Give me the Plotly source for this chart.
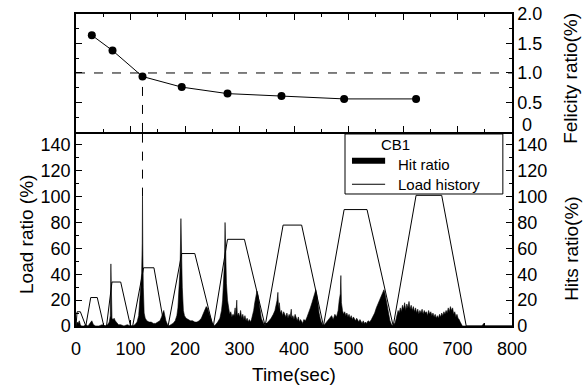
import plotly.graph_objects as go

# ---------------- data ----------------
# Load history (bottom panel, left axis)
load_time = [0, 2, 8, 18, 27, 39, 51, 56, 66, 82, 100, 104, 124, 143, 162,
             169, 194, 218, 251, 252, 278, 309, 347, 380, 414, 454,
             492, 534, 582, 624, 671, 716, 800]
load_value = [0, 11, 11, 0, 22, 22, 0, 0, 34, 34, 0, 0, 45, 45, 0,
              0, 56, 56, 0, 0, 67, 67, 0, 78, 78, 0,
              90, 90, 0, 101, 101, 0, 0]

# Hit ratio (bottom panel, right axis)
hit_time = [0, 2, 4, 6, 8, 10, 14, 18, 22, 26, 29, 32, 36, 42, 48, 54, 58, 61, 63, 64, 65, 66, 68, 70, 72, 75, 78, 82, 88, 94, 100, 104,
            108, 112, 115, 117, 119, 120.5, 121.5, 122, 122.7, 123.5, 125, 127, 130, 134, 138, 142, 146, 150, 154, 157, 159, 161, 163, 165, 168, 170,
            174, 178, 182, 185, 187, 189, 191, 192.5, 193.5, 195, 197, 199, 202, 206, 210, 214, 218, 222, 226, 230, 233, 236, 239, 241, 244, 247, 250, 252,
            256, 260, 264, 267, 269, 271, 272.5, 273.5, 274.5, 276, 278, 280, 282, 284, 286, 288, 290, 292, 293, 295, 296, 298, 300, 302, 304, 306, 308, 310,
            312, 314, 316, 318, 320, 322, 324, 326, 328, 330, 332, 334, 336, 338, 340, 343, 347,
            350, 354, 358, 362, 365, 367, 369, 370.5, 371.5, 373, 375, 377, 379, 381, 383, 385, 387, 389, 391, 393, 395, 396, 398, 400, 402, 404, 406,
            408, 410, 412, 414, 416, 418, 421, 424, 427, 430, 433, 436, 438, 440, 442, 444, 446, 448, 450, 454,
            458, 462, 466, 469, 472, 475, 478, 481, 483, 485, 486, 487, 489, 491, 493, 495, 497, 499, 501, 503, 505, 507, 509, 511, 513, 515, 517, 519,
            521, 523, 525, 527, 529, 531, 533, 536, 539, 542, 545, 548, 551, 554, 557, 560, 563, 565, 567, 569, 571, 573, 576, 579, 582,
            586, 589, 591, 593, 595, 597, 599, 601, 603, 605, 607, 609, 611, 613, 615, 617, 619, 621, 623, 625, 627, 629, 631, 633, 635, 637, 639,
            641, 643, 645, 647, 649, 651, 653, 655, 657, 659, 661, 663, 665, 667, 669, 671, 673, 675, 677, 679, 681, 683, 685, 687, 689, 691, 693,
            695, 697, 699, 701, 703, 705, 707, 709, 720, 745, 748, 750, 800]
hit_value = [0, 3, 2, 4, 1, 0, 0, 1, 0, 2, 4, 1, 0, 0, 1, 0, 1, 3, 8, 48, 10, 6, 5, 6, 4, 2, 1, 1, 0, 1, 0, 0,
             1, 3, 8, 20, 32, 41, 64, 100, 55, 30, 10, 6, 4, 3, 3, 2, 2, 3, 4, 7, 10, 12, 8, 4, 1, 0,
             1, 2, 4, 8, 14, 30, 45, 83, 60, 30, 12, 8, 6, 5, 4, 4, 3, 3, 4, 6, 9, 13, 15, 14, 10, 5, 1, 0,
             1, 3, 6, 12, 20, 35, 50, 80, 45, 33, 20, 12, 9, 11, 7, 9, 8, 14, 7, 20, 8, 10, 7, 12, 6, 9, 5, 8,
             4, 6, 3, 5, 3, 5, 8, 12, 18, 22, 27, 24, 18, 10, 6, 3, 0,
             2, 4, 6, 9, 12, 16, 20, 26, 14, 18, 10, 12, 8, 11, 9, 7, 10, 6, 9, 7, 13, 6, 8, 5, 9, 6, 4,
             7, 3, 5, 3, 2, 5, 4, 7, 10, 14, 18, 22, 25, 28, 24, 16, 10, 6, 3, 0,
             2, 4, 6, 8, 5, 9, 7, 12, 20, 25, 39, 18, 12, 9, 11, 8, 10, 7, 9, 6, 8, 5, 7, 5, 4, 6, 4, 3,
             5, 3, 2, 4, 2, 3, 2, 4, 3, 5, 7, 10, 14, 17, 20, 23, 26, 28, 25, 20, 14, 9, 4, 1, 0,
             3, 8, 12, 10, 14, 11, 16, 13, 18, 12, 17, 14, 19, 13, 16, 12, 15, 11, 14, 10, 13, 9, 12, 10, 13, 9, 12,
             10, 11, 8, 12, 9, 11, 8, 10, 7, 9, 6, 8, 6, 9, 7, 10, 8, 11, 9, 12, 10, 14, 11, 15, 12, 14, 9,
             11, 7, 9, 6, 5, 3, 1, 0, 0, 0, 2, 0, 0]

# Felicity ratio (top panel)
fel_time = [29, 67, 122, 194, 278, 377, 492, 624]
fel_value = [1.64, 1.38, 0.94, 0.76, 0.65, 0.61, 0.56, 0.56]
fel_ref = 1.0
spike_top = 100

x_ticks = list(range(0, 801, 100))
load_ticks = list(range(0, 141, 20))
fel_ticks = [0, 0.5, 1.0, 1.5, 2.0]
fel_ticktext = ["", "0.5", "1.0", "1.5", "2.0"]

legend_title = "CB1"
legend_names = ["Hit ratio", "Load history"]

# ---------------- figure ----------------
FONT = "Liberation Sans, Arial, sans-serif"
fig = go.Figure()

fig.add_trace(go.Scatter(x=hit_time, y=hit_value, xaxis="x", yaxis="y3",
                         mode="lines", fill="tozeroy", fillcolor="black",
                         line=dict(color="black", width=0.6), name=legend_names[0],
                         showlegend=False))
fig.add_trace(go.Scatter(x=load_time, y=load_value, xaxis="x", yaxis="y",
                         mode="lines", line=dict(color="black", width=1),
                         name=legend_names[1], showlegend=False))
fig.add_trace(go.Scatter(x=fel_time, y=fel_value, xaxis="x2", yaxis="y2",
                         mode="lines+markers", line=dict(color="black", width=1),
                         marker=dict(color="black", size=8), showlegend=False))

split = 0.622
TICKFONT = dict(size=18, family=FONT, color="black")
common = dict(showgrid=False, zeroline=False, showline=True, linecolor="black",
              linewidth=1.5, ticks="inside", tickcolor="black", ticklen=6,
              tickfont=TICKFONT, automargin=False)

fig.update_layout(
    width=587, height=386,
    margin=dict(l=76, r=75, t=14, b=60, autoexpand=False),
    paper_bgcolor="white", plot_bgcolor="white",
    font=dict(family=FONT, size=18, color="black"),
    showlegend=False,
    xaxis=dict(domain=[0, 1], anchor="y", range=[0, 800], tickvals=x_ticks,
               minor=dict(ticks="inside", dtick=50, ticklen=3, tickcolor="black"),
               mirror=False, ticklabelstandoff=6, **common),
    yaxis=dict(domain=[0, split], anchor="x", range=[0, 150], tickvals=load_ticks,
               minor=dict(ticks="inside", dtick=10, ticklen=3, tickcolor="black"),
               **common),
    yaxis3=dict(overlaying="y", side="right", anchor="x", range=[0, 150],
                tickvals=load_ticks,
                minor=dict(ticks="inside", dtick=10, ticklen=3, tickcolor="black"),
                **common),
    xaxis2=dict(domain=[0, 1], anchor="y2", range=[0, 800], tickvals=x_ticks,
                showticklabels=False, mirror="ticks",
                minor=dict(ticks="inside", dtick=50, ticklen=3, tickcolor="black"),
                **common),
    yaxis2=dict(domain=[split, 1], anchor="x2", range=[0, 2], side="right",
                tickvals=fel_ticks, ticktext=fel_ticktext, mirror="ticks",
                minor=dict(ticks="inside", dtick=0.25, ticklen=3, tickcolor="black"),
                **common),
)

# dashed reference lines
fig.add_shape(type="line", xref="x2", yref="y2", x0=0, x1=800, y0=fel_ref, y1=fel_ref,
              line=dict(color="black", width=1, dash="dash"))
fig.add_shape(type="line", xref="x2", yref="y2", x0=fel_time[2], x1=fel_time[2],
              y0=0, y1=fel_value[2], line=dict(color="black", width=1, dash="dash"))
fig.add_shape(type="line", xref="x", yref="y", x0=fel_time[2], x1=fel_time[2],
              y0=spike_top, y1=150, line=dict(color="black", width=1, dash="dash"))

# boxed key (drawn above the data, like the original)
fig.add_shape(type="rect", xref="paper", yref="paper", x0=0.617, x1=0.979, y0=0.4231, y1=0.6154,
              fillcolor="white", line=dict(color="black", width=1), layer="above")
fig.add_shape(type="rect", xref="paper", yref="paper", x0=0.633, x1=0.709, y0=0.5201, y1=0.5393,
              fillcolor="black", line=dict(color="black", width=0), layer="above")
fig.add_shape(type="line", xref="paper", yref="paper", x0=0.633, x1=0.709, y0=0.4543, y1=0.4543,
              line=dict(color="black", width=1), layer="above")
LEGFONT = dict(size=15, family=FONT, color="black")
fig.add_annotation(text=legend_title, xref="paper", yref="paper", x=0.7317, y=0.5833,
                   xanchor="center", yanchor="middle", showarrow=False, font=LEGFONT)
fig.add_annotation(text="<br>".join(legend_names), xref="paper", yref="paper", x=0.7339, y=0.5513,
                   xanchor="left", yanchor="top", align="left", showarrow=False, font=LEGFONT)

# felicity "0" label, nudged up as in the reference
fig.add_annotation(text="0", xref="paper", yref="y2", x=1.0, y=0.12, xanchor="left",
                   xshift=8, yanchor="middle", showarrow=False, font=TICKFONT)

# axis titles as annotations
ann = dict(showarrow=False, xref="paper", yref="paper", font=dict(size=19, family=FONT, color="black"))
fig.add_annotation(text="Load ratio (%)", x=-0.1124, y=0.295, textangle=-90,
                   xanchor="center", yanchor="middle", **ann)
fig.add_annotation(text="Hits ratio(%)", x=1.135, y=0.25, textangle=-90,
                   xanchor="center", yanchor="middle", **ann)
fig.add_annotation(text="Felicity ratio(%)", x=1.135, y=0.795, textangle=-90,
                   xanchor="center", yanchor="middle", **ann)
fig.add_annotation(text="Time(sec)", x=0.5, y=-0.154, xanchor="center", yanchor="middle", **ann)

fig.write_html("out.html")
